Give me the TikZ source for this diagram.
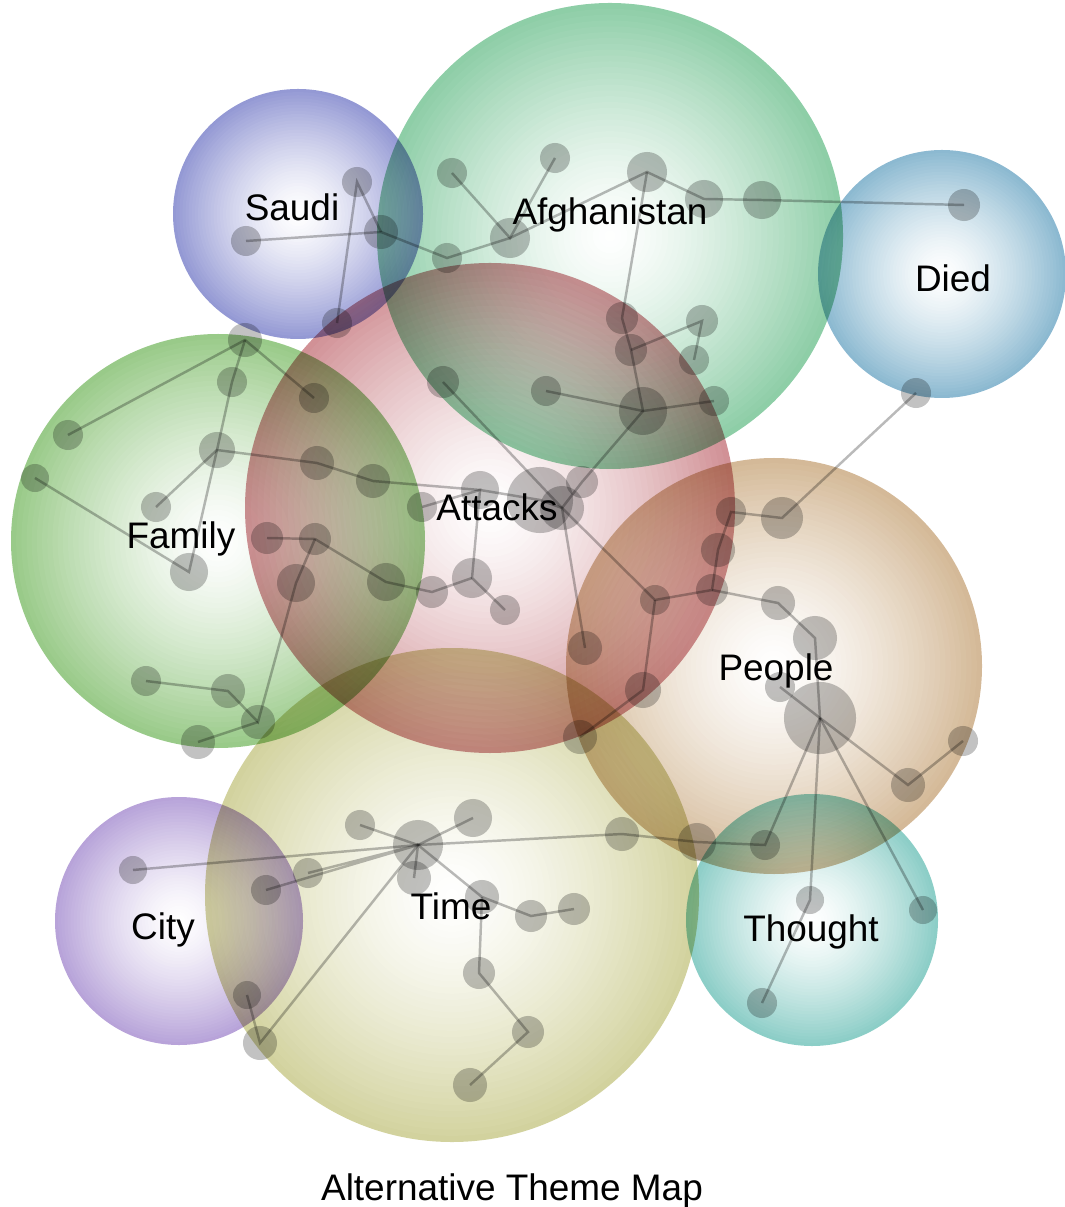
\documentclass[tikz,border=0pt]{standalone}
\usepackage{fontspec}
\setmainfont{Liberation Sans}
\usepackage{tikz}
\definecolor{saudicol}{RGB}{128,134,204}
\definecolor{afghancol}{RGB}{120,196,150}
\definecolor{diedcol}{RGB}{118,172,200}
\definecolor{familycol}{RGB}{134,192,114}
\definecolor{attackcol}{RGB}{200,124,130}
\definecolor{peoplecol}{RGB}{204,172,132}
\definecolor{timecol}{RGB}{202,202,140}
\definecolor{citycol}{RGB}{170,146,210}
\definecolor{thoughtcol}{RGB}{118,196,188}
% sphere-like fill made of stacked discs, white in the middle
\newcommand{\themeball}[3]{%
  \begin{scope}[transparency group]
  \foreach \k in {0,...,39}{
    \pgfmathsetmacro{\ro}{#2*(1-\k/40)}
    \pgfmathsetmacro{\p}{84*(1-\k/40)^1.4}
    \fill[#3!\p!white] (#1.center) circle[radius=\ro];
  }
  \end{scope}}
\tikzset{
  font={\fontsize{10.5pt}{12}\selectfont},
  theme/.style={circle, minimum size=#1*0.02cm},
  dot/.style={circle, minimum size=#1*0.02cm, fill=black!60, fill opacity=.4},
  link/.style={draw=black!60, draw opacity=.45, line width=0.7pt},
  lab/.style={anchor=base, text=black}}
\begin{document}
\begin{tikzpicture}[x=0.01cm, y=-0.01cm]
\tikzstyle{every node}+=[inner sep=0pt]
\useasboundingbox (0,0) rectangle (1065,1207);
% theme circles
\node[theme=125] (saudi) at (298,214) {};
\node[theme=233] (afghan) at (610,236) {};
\node[theme=124] (died) at (942,274) {};
\node[theme=207] (family) at (218,541) {};
\node[theme=245] (attacks) at (490,508) {};
\node[theme=208] (people) at (774,666) {};
\node[theme=247] (time) at (452,895) {};
\node[theme=124] (city) at (179,921) {};
\node[theme=126] (thought) at (812,920) {};
\begin{scope}[blend mode=multiply]
\themeball{saudi}{125}{saudicol}
\themeball{afghan}{233}{afghancol}
\themeball{died}{124}{diedcol}
\themeball{family}{207}{familycol}
\themeball{attacks}{245}{attackcol}
\themeball{people}{208}{peoplecol}
\themeball{time}{247}{timecol}
\themeball{city}{124}{citycol}
\themeball{thought}{126}{thoughtcol}
% concept dots
\node[dot=15] (sa1) at (357,182) {};
\node[dot=17] (sa2) at (381,232) {};
\node[dot=15] (sa3) at (246,241) {};
\node[dot=15] (sa4) at (337,323) {};
\node[dot=15] (af1) at (452,173) {};
\node[dot=15] (af2) at (555,158) {};
\node[dot=20] (af3) at (647,172) {};
\node[dot=19] (af4) at (704,199) {};
\node[dot=19] (af5) at (762,200) {};
\node[dot=20] (af6) at (510,238) {};
\node[dot=15] (af7) at (447,258) {};
\node[dot=16] (af8) at (622,318) {};
\node[dot=16] (af9) at (631,350) {};
\node[dot=16] (af10) at (702,321) {};
\node[dot=15] (af11) at (694,360) {};
\node[dot=15] (af12) at (546,391) {};
\node[dot=24] (af13) at (643,411) {};
\node[dot=15] (af14) at (714,401) {};
\node[dot=16] (di1) at (964,205) {};
\node[dot=15] (di2) at (916,393) {};
\node[dot=17] (fa1) at (245,340) {};
\node[dot=15] (fa2) at (232,382) {};
\node[dot=15] (fa3) at (314,398) {};
\node[dot=15] (fa4) at (68,435) {};
\node[dot=18] (fa5) at (217,450) {};
\node[dot=14] (fa6) at (35,478) {};
\node[dot=15] (fa7) at (156,507) {};
\node[dot=19] (fa8) at (189,572) {};
\node[dot=17] (fa9) at (317,463) {};
\node[dot=17] (fa10) at (373,481) {};
\node[dot=15] (fa11) at (146,681) {};
\node[dot=17] (fa12) at (228,691) {};
\node[dot=17] (fa13) at (258,722) {};
\node[dot=17] (fa14) at (198,742) {};
\node[dot=19] (at1) at (480,490) {};
\node[dot=15] (at2) at (422,507) {};
\node[dot=33] (at3) at (540,500) {};
\node[dot=22] (at4) at (562,508) {};
\node[dot=16] (at5) at (582,482) {};
\node[dot=16] (at6) at (267,538) {};
\node[dot=16] (at7) at (315,539) {};
\node[dot=19] (at8) at (296,583) {};
\node[dot=19] (at9) at (386,582) {};
\node[dot=16] (at10) at (432,592) {};
\node[dot=20] (at11) at (472,578) {};
\node[dot=15] (at12) at (505,610) {};
\node[dot=17] (at13) at (585,648) {};
\node[dot=15] (at14) at (655,600) {};
\node[dot=18] (at15) at (643,690) {};
\node[dot=17] (at16) at (580,737) {};
\node[dot=16] (at17) at (443,382) {};
\node[dot=15] (pa1) at (731,512) {};
\node[dot=21] (pa2) at (782,518) {};
\node[dot=17] (pa3) at (718,550) {};
\node[dot=16] (pa4) at (712,590) {};
\node[dot=17] (pe1) at (778,603) {};
\node[dot=22] (pe2) at (815,638) {};
\node[dot=15] (pe3) at (780,687) {};
\node[dot=36] (pe4) at (820,718) {};
\node[dot=15] (pe5) at (963,741) {};
\node[dot=17] (pe6) at (908,785) {};
\node[dot=15] (pe7) at (765,845) {};
\node[dot=19] (pe8) at (697,842) {};
\node[dot=17] (pe9) at (622,834) {};
\node[dot=14] (th1) at (810,900) {};
\node[dot=14] (th2) at (923,910) {};
\node[dot=15] (th3) at (762,1003) {};
\node[dot=25] (ti1) at (418,845) {};
\node[dot=15] (ti2) at (360,825) {};
\node[dot=19] (ti3) at (473,818) {};
\node[dot=17] (ti4) at (414,878) {};
\node[dot=17] (ti5) at (482,897) {};
\node[dot=16] (ti6) at (531,916) {};
\node[dot=16] (ti7) at (574,909) {};
\node[dot=16] (ti8) at (479,973) {};
\node[dot=16] (ti9) at (528,1032) {};
\node[dot=17] (ti10) at (470,1085) {};
\node[dot=15] (ti11) at (308,873) {};
\node[dot=15] (ti12) at (266,890) {};
\node[dot=14] (ti13) at (247,995) {};
\node[dot=17] (ti14) at (260,1043) {};
\node[dot=14] (ci1) at (133,870) {};
% links
\draw[link] (sa3.center) -- (sa2.center) -- (af7.center) -- (af6.center) -- (af3.center) -- (af4.center) -- (af5.center) -- (di1.center);
\draw[link] (sa4.center) -- (sa1.center) -- (sa2.center);
\draw[link] (af1.center) -- (af6.center) -- (af2.center);
\draw[link] (af3.center) -- (af8.center) -- (af9.center) -- (af13.center) -- (at5.center) -- (at4.center);
\draw[link] (af9.center) -- (af10.center) -- (af11.center);
\draw[link] (af12.center) -- (af13.center) -- (af14.center);
\draw[link] (at17.center) -- (at4.center) -- (at13.center);
\draw[link] (at4.center) -- (at14.center) -- (pa4.center) -- (pa3.center) -- (pa1.center) -- (pa2.center) -- (di2.center);
\draw[link] (pa4.center) -- (pe1.center) -- (pe2.center) -- (pe4.center);
\draw[link] (pe3.center) -- (pe4.center) -- (pe6.center) -- (pe5.center);
\draw[link] (pe4.center) -- (th1.center) -- (th3.center);
\draw[link] (pe4.center) -- (th2.center);
\draw[link] (pe4.center) -- (pe7.center) -- (pe8.center) -- (pe9.center) -- (ti1.center);
\draw[link] (at14.center) -- (at15.center) -- (at16.center);
\draw[link] (fa4.center) -- (fa1.center) -- (fa3.center);
\draw[link] (fa1.center) -- (fa2.center) -- (fa5.center) -- (fa8.center) -- (fa6.center);
\draw[link] (fa7.center) -- (fa5.center) -- (fa9.center) -- (fa10.center) -- (at1.center) -- (at3.center) -- (at4.center);
\draw[link] (at2.center) -- (at1.center) -- (at11.center) -- (at12.center);
\draw[link] (at11.center) -- (at10.center) -- (at9.center) -- (at7.center) -- (at6.center);
\draw[link] (at7.center) -- (at8.center) -- (fa13.center) -- (fa12.center) -- (fa11.center);
\draw[link] (fa13.center) -- (fa14.center);
\draw[link] (ti2.center) -- (ti1.center) -- (ti3.center);
\draw[link] (ti4.center) -- (ti1.center) -- (ti5.center) -- (ti6.center) -- (ti7.center);
\draw[link] (ti5.center) -- (ti8.center) -- (ti9.center) -- (ti10.center);
\draw[link] (ti11.center) -- (ti1.center) -- (ti12.center);
\draw[link] (ci1.center) -- (ti1.center) -- (ti14.center) -- (ti13.center);
\end{scope}
% theme labels
\node[lab] (lsaudi) at (292,221) {Saudi};
\node[lab] (lafghan) at (610,225) {Afghanistan};
\node[lab] (ldied) at (953,292) {Died};
\node[lab] (lfamily) at (181,548) {Family};
\node[lab] (lattacks) at (497,521) {Attacks};
\node[lab] (lpeople) at (776,680) {People};
\node[lab] (ltime) at (451,919) {Time};
\node[lab] (lcity) at (163,939) {City};
\node[lab] (lthought) at (811,941) {Thought};
\node[lab] (ltitle) at (512,1200) {Alternative Theme Map};
\end{tikzpicture}
\end{document}
